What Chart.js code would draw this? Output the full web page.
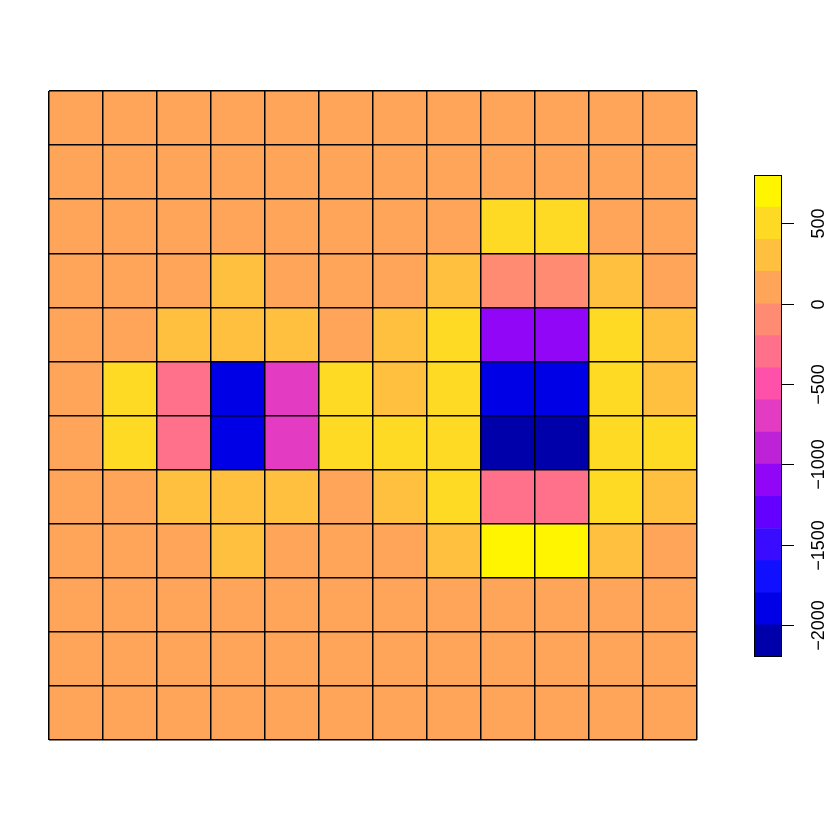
<!DOCTYPE html>
<html>
<head>
<meta charset="utf-8">
<script src="https://cdn.jsdelivr.net/npm/chart.js@4"></script>
<style>
  html, body { margin: 0; padding: 0; background: #fff; }
  #wrap { position: relative; width: 830px; height: 830px; }
  #grid { position: absolute; left: 0; top: 0; }
  #bar { position: absolute; left: 740px; top: 160px; }
</style>
</head>
<body>
<div id="wrap">
  <canvas id="grid" width="730" height="830"></canvas>
  <canvas id="bar" width="90" height="510"></canvas>
</div>
<script>
// columns left to right
const colLabels = ['1', '2', '3', '4', '5', '6', '7', '8', '9', '10', '11', '12'];

// rows, top to bottom
const row1  = [100, 100, 100, 100, 100, 100, 100, 100, 100, 100, 100, 100];
const row2  = [100, 100, 100, 100, 100, 100, 100, 100, 100, 100, 100, 100];
const row3  = [100, 100, 100, 100, 100, 100, 100, 100, 500, 500, 100, 100];
const row4  = [100, 100, 100, 300, 100, 100, 100, 300, -100, -100, 300, 100];
const row5  = [100, 100, 300, 300, 300, 100, 300, 500, -1100, -1100, 500, 300];
const row6  = [100, 500, -300, -1900, -700, 500, 300, 500, -1900, -1900, 500, 300];
const row7  = [100, 500, -300, -1900, -700, 500, 500, 500, -2150, -2190, 500, 500];
const row8  = [100, 100, 300, 300, 300, 100, 300, 500, -300, -300, 500, 300];
const row9  = [100, 100, 100, 300, 100, 100, 100, 300, 790, 780, 300, 100];
const row10 = [100, 100, 100, 100, 100, 100, 100, 100, 100, 100, 100, 100];
const row11 = [100, 100, 100, 100, 100, 100, 100, 100, 100, 100, 100, 100];
const row12 = [100, 100, 100, 100, 100, 100, 100, 100, 100, 100, 100, 100];
const rows = [row1, row2, row3, row4, row5, row6, row7, row8, row9, row10, row11, row12];

// colour key
const breaks = [-2200, -2000, -1800, -1600, -1400, -1200, -1000, -800, -600, -400, -200, 0, 200, 400, 600, 800];
const bandColors = [
  '#0000AA', '#0000E6', '#1010FF', '#3A0CFF', '#6400FF', '#9206F8', '#BE22D6', '#E43BC3',
  '#FF50AA', '#FF708B', '#FF8B72', '#FFA55A', '#FFC040', '#FFDA24', '#FFF500'
];
const keyTicks = [-2000, -1500, -1000, -500, 0, 500];

function colorFor(v) {
  for (let i = 0; i < bandColors.length; i++) {
    if (v >= breaks[i] && v <= breaks[i + 1]) return bandColors[i];
  }
  return v < breaks[0] ? bandColors[0] : bandColors[bandColors.length - 1];
}

const cellSets = rows.map((vals, r) => ({
  data: vals.map(() => [rows.length - 1 - r, rows.length - r]),
  backgroundColor: vals.map(colorFor),
  borderWidth: 0
}));

new Chart(document.getElementById('grid'), {
  type: 'bar',
  data: { labels: colLabels, datasets: cellSets },
  options: {
    responsive: false,
    animation: false,
    layout: { padding: { left: 49, top: 91, right: 33, bottom: 90 } },
    datasets: { bar: { barPercentage: 1, categoryPercentage: 1, grouped: false } },
    plugins: { legend: { display: false }, tooltip: { enabled: false } },
    scales: {
      x: {
        ticks: { display: false },
        grid: { z: 1, color: '#000', lineWidth: 1.5, drawTicks: false },
        border: { display: false }
      },
      y: {
        min: 0,
        max: 12,
        ticks: { display: false, stepSize: 1 },
        grid: { z: 1, color: '#000', lineWidth: 1.5, drawTicks: false },
        border: { display: false }
      }
    }
  }
});

const keySets = bandColors.map((c, i) => ({
  data: [[breaks[i], breaks[i + 1]]],
  backgroundColor: c,
  borderWidth: 0
}));

const keyAxis = {
  id: 'keyAxis',
  afterDraw(chart) {
    const ctx = chart.ctx;
    const a = chart.chartArea;
    const y = chart.scales.y;
    ctx.save();
    ctx.strokeStyle = '#000';
    ctx.lineWidth = 1;
    ctx.strokeRect(a.left + 0.5, a.top + 0.5, a.right - a.left - 1, a.bottom - a.top - 1);
    ctx.fillStyle = '#000';
    ctx.font = '18px "Liberation Sans", Arial, sans-serif';
    ctx.textAlign = 'center';
    ctx.textBaseline = 'alphabetic';
    keyTicks.forEach(t => {
      const py = Math.round(y.getPixelForValue(t)) + 0.5;
      ctx.beginPath();
      ctx.moveTo(a.right, py);
      ctx.lineTo(a.right + 12, py);
      ctx.stroke();
      ctx.save();
      ctx.translate(a.right + 42, py);
      ctx.rotate(-Math.PI / 2);
      ctx.fillText(t < 0 ? '\u2212' + Math.abs(t) : String(t), 0, 0);
      ctx.restore();
    });
    ctx.restore();
  }
};

new Chart(document.getElementById('bar'), {
  type: 'bar',
  data: { labels: [''], datasets: keySets },
  options: {
    responsive: false,
    animation: false,
    layout: { padding: { left: 14, top: 15, right: 48, bottom: 13 } },
    datasets: { bar: { barPercentage: 1, categoryPercentage: 1, grouped: false } },
    plugins: { legend: { display: false }, tooltip: { enabled: false } },
    scales: {
      x: { display: false },
      y: { display: false, min: breaks[0], max: breaks[breaks.length - 1] }
    }
  },
  plugins: [keyAxis]
});
</script>
</body>
</html>
